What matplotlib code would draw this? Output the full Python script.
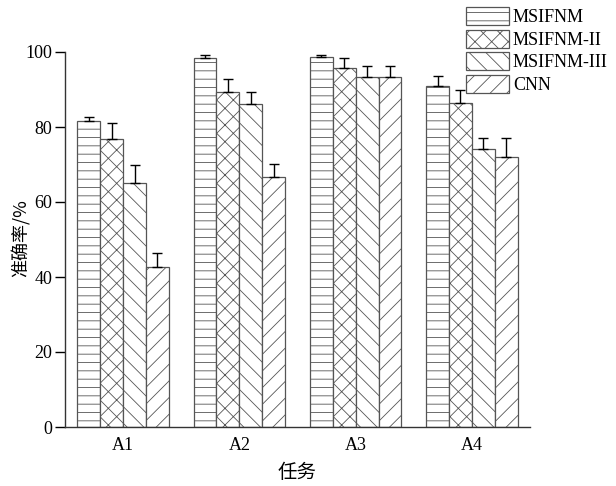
import matplotlib
matplotlib.use("Agg")
import matplotlib.pyplot as plt
import numpy as np

tasks = ["A1", "A2", "A3", "A4"]
methods = ["MSIFNM", "MSIFNM-II", "MSIFNM-III", "CNN"]
acc_msifnm = [81.7, 98.4, 98.7, 90.8]
acc_msifnm2 = [76.8, 89.2, 95.8, 86.3]
acc_msifnm3 = [65.1, 86.0, 93.4, 74.0]
acc_cnn = [42.7, 66.7, 93.2, 71.9]
err_msifnm = [1.0, 0.9, 0.5, 2.8]
err_msifnm2 = [4.3, 3.5, 2.6, 3.5]
err_msifnm3 = [4.7, 3.4, 2.9, 3.1]
err_cnn = [3.7, 3.4, 3.1, 5.1]
y_ticks = [0, 20, 40, 60, 80, 100]

values = [acc_msifnm, acc_msifnm2, acc_msifnm3, acc_cnn]
errors = [err_msifnm, err_msifnm2, err_msifnm3, err_cnn]
hatches = ["--", "xx", "\\\\", "//"]

plt.rcParams["font.family"] = ["Liberation Serif", "Noto Sans CJK SC"]
plt.rcParams["hatch.linewidth"] = 0.6

fig = plt.figure(figsize=(6.16, 4.86), dpi=100)
ax = fig.add_axes([65 / 616, 59 / 486, 465 / 616, 375 / 486])

x = np.arange(len(tasks))
width = 0.197
offsets = (np.arange(4) - 1.5) * width
for i, (vals, errs) in enumerate(zip(values, errors)):
    ax.bar(x + offsets[i], vals, width, color="white", edgecolor="#555555",
           hatch=hatches[i], linewidth=0.9, label=methods[i], zorder=2)
    ax.errorbar(x + offsets[i], vals, yerr=[np.zeros(len(errs)), errs],
                fmt="none", ecolor="black", elinewidth=1.0, capsize=3.5,
                capthick=1.0, zorder=3)

ax.set_xlim(-0.5, 3.5)
ax.set_ylim(0, 100)
ax.set_yticks(y_ticks)
ax.set_xticks(x)
ax.set_xticklabels(tasks)
ax.tick_params(axis="x", length=0, labelsize=13, pad=7)
ax.tick_params(axis="y", direction="out", length=7, width=1, labelsize=13,
               pad=2)
for side in ("top", "right"):
    ax.spines[side].set_visible(False)
for side in ("left", "bottom"):
    ax.spines[side].set_linewidth(1.0)
    ax.spines[side].set_color("#333333")

ax.set_ylabel("准确率/%", fontsize=13, family=["Noto Sans CJK SC"])
ax.yaxis.set_label_coords(-0.073, 0.503)
ax.set_xlabel("任务", fontsize=14, family=["Noto Sans CJK SC"], labelpad=6)

fig.legend(loc="upper left", bbox_to_anchor=(466 / 616, 1 - 7 / 486),
           frameon=False, fontsize=13, handlelength=2.4, handleheight=1.15,
           labelspacing=0.2, handletextpad=0.2, borderaxespad=0,
           borderpad=0)

fig.savefig("out.png", dpi=100)
